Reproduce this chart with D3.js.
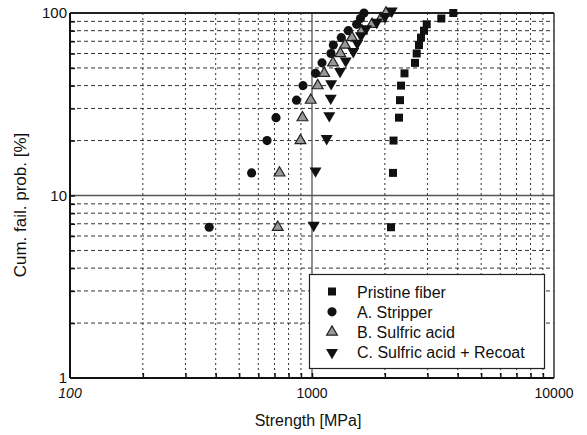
<!DOCTYPE html>
<html>
<head>
<meta charset="utf-8">
<script src="https://cdn.jsdelivr.net/npm/d3@7/dist/d3.min.js"></script>
<style>
  html, body { margin: 0; padding: 0; background: #fff; }
  svg { display: block; }
  text { font-family: "Liberation Sans", Arial, sans-serif; fill: #111; }
</style>
</head>
<body>
<svg id="chart" width="587" height="435"></svg>
<script>
// ---- data ----
const cumProb = [6.7, 13.3, 20, 26.7, 33.3, 40, 46.7, 53.3, 60, 66.7, 73.3, 80, 86.7, 93.3, 100];
const pristine = [2121, 2161, 2172, 2288, 2310, 2333, 2411, 2665, 2708, 2768, 2821, 2902, 2979, 3422, 3836];
const stripper = [376, 563, 652, 710, 863, 918, 1034, 1100, 1198, 1225, 1321, 1413, 1530, 1586, 1640];
const sulfric = [722, 734, 896, 913, 988, 1056, 1123, 1221, 1309, 1369, 1463, 1609, 1770, 1928, 2022];
const recoat = [1016, 1034, 1150, 1179, 1195, 1200, 1306, 1378, 1481, 1539, 1594, 1672, 1851, 2003, 2135];
const seriesNames = ["Pristine fiber", "A. Stripper", "B. Sulfric acid", "C. Sulfric acid + Recoat"];
const xTickLabels = [100, 1000, 10000];
const yTickLabels = [1, 10, 100];
const xMinor = [200, 300, 400, 500, 600, 700, 800, 900, 2000, 3000, 4000, 5000, 6000, 7000, 8000, 9000];
const yMinor = [2, 3, 4, 5, 6, 7, 8, 9, 20, 30, 40, 50, 60, 70, 80, 90];

// ---- layout ----
const svg = d3.select("#chart");
const L = 70, R = 554, T = 13, B = 378;
const x = d3.scaleLog().domain([100, 10000]).range([L, R]);
const y = d3.scaleLog().domain([1, 100]).range([B, T]);

// grid
const grid = svg.append("g");
grid.selectAll("line.hy").data(yMinor).join("line")
  .attr("x1", L).attr("x2", R).attr("y1", d => y(d)).attr("y2", d => y(d))
  .attr("stroke", "#333").attr("stroke-width", 1).attr("stroke-dasharray", "4,3");
grid.selectAll("line.vx").data(xMinor).join("line")
  .attr("y1", T).attr("y2", B).attr("x1", d => x(d)).attr("x2", d => x(d))
  .attr("stroke", "#333").attr("stroke-width", 1).attr("stroke-dasharray", "2,3");
// major lines
grid.append("line").attr("x1", L).attr("x2", R).attr("y1", y(10)).attr("y2", y(10))
  .attr("stroke", "#555").attr("stroke-width", 1.3);
grid.append("line").attr("y1", T).attr("y2", B).attr("x1", x(1000)).attr("x2", x(1000))
  .attr("stroke", "#555").attr("stroke-width", 1.3);

// axes with inward ticks
const yAxis = d3.axisRight(y).tickValues(yMinor.concat([10])).tickSize(5).tickFormat("");
svg.append("g").attr("transform", `translate(${L},0)`).call(yAxis)
  .call(g => g.select(".domain").remove())
  .selectAll("line").attr("stroke", "#111").attr("stroke-width", 1.5);
const xAxis = d3.axisTop(x).tickValues(xMinor.concat([1000])).tickSize(5).tickFormat("");
svg.append("g").attr("transform", `translate(0,${B})`).call(xAxis)
  .call(g => g.select(".domain").remove())
  .selectAll("line").attr("stroke", "#111").attr("stroke-width", 1.5);

// frame
svg.append("line").attr("x1", L).attr("x2", R).attr("y1", T).attr("y2", T).attr("stroke", "#222").attr("stroke-width", 1.8);
svg.append("line").attr("x1", L).attr("x2", R).attr("y1", B).attr("y2", B).attr("stroke", "#111").attr("stroke-width", 2);
svg.append("line").attr("x1", L).attr("x2", L).attr("y1", T).attr("y2", B).attr("stroke", "#111").attr("stroke-width", 2);
svg.append("line").attr("x1", R).attr("x2", R).attr("y1", T).attr("y2", B).attr("stroke", "#333").attr("stroke-width", 1.5);

// tick labels
svg.selectAll("text.xt").data(xTickLabels).join("text")
  .attr("x", d => x(d)).attr("y", 398).attr("text-anchor", "middle")
  .attr("font-size", 14).attr("font-style", (d, i) => i === 0 ? "italic" : "normal")
  .text(d => d);
svg.selectAll("text.yt").data(yTickLabels).join("text")
  .attr("x", 67).attr("y", d => y(d) + 5).attr("text-anchor", "end")
  .attr("font-size", 15).text(d => d);

// axis titles
svg.append("text").attr("x", 308).attr("y", 426).attr("text-anchor", "middle")
  .attr("font-size", 16).text("Strength [MPa]");
svg.append("text").attr("transform", "translate(26,205) rotate(-90)").attr("text-anchor", "middle")
  .attr("font-size", 17).text("Cum. fail. prob. [%]");

// markers
const sq = d3.symbol().type(d3.symbolSquare).size(64);
const ci = d3.symbol().type(d3.symbolCircle).size(66);
const tri = d3.symbol().type(d3.symbolTriangle).size(50);
const tri2 = d3.symbol().type(d3.symbolTriangle).size(62);
const styles = [
  {gen: sq, fill: "#111", stroke: "none", rot: 0},
  {gen: ci, fill: "#111", stroke: "none", rot: 0},
  {gen: tri, fill: "#999", stroke: "#222", rot: 0},
  {gen: tri2, fill: "#111", stroke: "none", rot: 180}
];
const allSeries = [pristine, stripper, sulfric, recoat];
const marks = svg.append("g");
allSeries.forEach((s, si) => {
  const st = styles[si];
  marks.append("g").selectAll("path").data(s).join("path")
    .attr("d", st.gen())
    .attr("transform", (d, i) => `translate(${x(d)},${y(cumProb[i]) - (st.rot ? 2 : 0)}) rotate(${st.rot})`)
    .attr("fill", st.fill).attr("stroke", st.stroke).attr("stroke-width", 1.2);
});

// legend
const lg = svg.append("g");
lg.append("rect").attr("x", 309.5).attr("y", 274.5).attr("width", 235).attr("height", 94)
  .attr("fill", "#fff").attr("stroke", "#222").attr("stroke-width", 1.2);
seriesNames.forEach((name, i) => {
  const st = styles[i];
  const cy = 291.5 + i * 20.3;
  lg.append("path").attr("d", st.gen())
    .attr("transform", `translate(332,${cy}) rotate(${st.rot})`)
    .attr("fill", st.fill).attr("stroke", st.stroke).attr("stroke-width", 1.2);
  lg.append("text").attr("x", 357).attr("y", cy + 6).attr("font-size", 16).text(name);
});
</script>
</body>
</html>
